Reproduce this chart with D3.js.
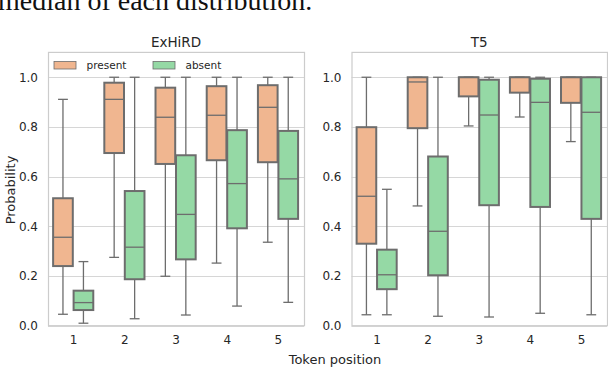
<!DOCTYPE html>
<html>
<head>
<meta charset="utf-8">
<script src="https://cdn.jsdelivr.net/npm/d3@7"></script>
<style>
  body { margin: 0; background: #fff; }
  svg text { font-family: "DejaVu Sans", sans-serif; fill: #262626; }
</style>
</head>
<body>
<div id="chart"></div>
<script>
//Datos
const posiciones = ['1', '2', '3', '4', '5'];
const series = ['present', 'absent'];
const yTicks = [0, 0.2, 0.4, 0.6, 0.8, 1.0];

//Cada caja: [bigote inferior, Q1, mediana, Q3, bigote superior]
const exhirdPresent = [
    [0.046, 0.240, 0.356, 0.513, 0.911],
    [0.275, 0.695, 0.911, 0.978, 1.0],
    [0.199, 0.651, 0.839, 0.958, 1.0],
    [0.252, 0.666, 0.847, 0.964, 1.0],
    [0.336, 0.658, 0.879, 0.968, 1.0]
];
const exhirdAbsent = [
    [0.010, 0.063, 0.093, 0.141, 0.258],
    [0.028, 0.187, 0.316, 0.542, 1.0],
    [0.043, 0.267, 0.448, 0.686, 1.0],
    [0.079, 0.392, 0.572, 0.787, 1.0],
    [0.094, 0.430, 0.591, 0.784, 1.0]
];
const t5Present = [
    [0.044, 0.330, 0.521, 0.799, 1.0],
    [0.482, 0.795, 0.981, 1.0, 1.0],
    [0.804, 0.923, 1.0, 1.0, 1.0],
    [0.840, 0.938, 1.0, 1.0, 1.0],
    [0.741, 0.897, 1.0, 1.0, 1.0]
];
const t5Absent = [
    [0.044, 0.147, 0.205, 0.306, 0.549],
    [0.038, 0.203, 0.380, 0.681, 1.0],
    [0.035, 0.485, 0.848, 0.990, 1.0],
    [0.050, 0.478, 0.899, 0.994, 1.0],
    [0.044, 0.430, 0.859, 1.0, 1.0]
];

//Colores fijos
const COLOR_PRESENT = '#f0b690',
COLOR_ABSENT = '#95d9a5',
COLOR_EDGE = '#6d6d6d';

const W = 608, H = 368;

let svg = d3.select('#chart')
    .append('svg')
        .attr('width', W)
        .attr('height', H);

//Texto del documento cortado arriba
svg.append('text')
    .attr('x', -2)
    .attr('y', 10)
    .style('font-family', '"Liberation Serif", "Times New Roman", serif')
    .style('font-size', '28px')
    .style('fill', '#111')
    .text('median of each distribution.');

let color = d3.scaleOrdinal()
    .domain(series)
    .range([COLOR_PRESENT, COLOR_ABSENT]);

let y = d3.scaleLinear()
    .domain([0, 1.1])
    .range([325.7, 52.4]);

function drawPanel(left, right, title, present, absent, withLegend) {
    let g = svg.append('g');

    let x = d3.scaleBand()
        .domain(posiciones)
        .range([left, right])
        .padding(0);

    let xSub = d3.scaleBand()
        .domain(series)
        .range([0, x.bandwidth() * 0.8]);

    //Rejilla
    g.append('g')
        .selectAll('line')
        .data(yTicks)
        .enter()
        .append('line')
        .attr('x1', left)
        .attr('x2', right)
        .attr('y1', d => Math.round(y(d)) + 0.5)
        .attr('y2', d => Math.round(y(d)) + 0.5)
        .attr('stroke', '#d6d6d6')
        .attr('stroke-width', 1);

    //Marco
    g.append('rect')
        .attr('x', left + 0.5)
        .attr('y', y.range()[1])
        .attr('width', right - left)
        .attr('height', y.range()[0] - y.range()[1])
        .attr('fill', 'none')
        .attr('stroke', '#cccccc')
        .attr('stroke-width', 1.2);

    //Eje Y
    let yAxis = d3.axisLeft(y).tickValues(yTicks).tickFormat(d3.format('.1f')).tickSize(0).tickPadding(10);
    g.append('g')
        .attr('transform', 'translate(' + left + ',0)')
        .call(yAxis)
        .call(a => a.select('.domain').remove())
        .selectAll('text')
        .style('font-size', '12px')
        .style('font-family', '"DejaVu Sans", sans-serif')
        .attr('fill', '#262626');

    //Eje X
    let xAxis = d3.axisBottom(x).tickSize(0).tickPadding(10);
    g.append('g')
        .attr('transform', 'translate(0,' + y(0) + ')')
        .call(xAxis)
        .call(a => a.select('.domain').remove())
        .selectAll('text')
        .style('font-size', '12px')
        .style('font-family', '"DejaVu Sans", sans-serif')
        .attr('fill', '#262626');

    //Titulo
    g.append('text')
        .attr('x', (left + right) / 2)
        .attr('y', 46.5)
        .attr('text-anchor', 'middle')
        .style('font-size', '13.5px')
        .text(title);

    //Cajas
    let rows = [];
    posiciones.forEach(function(p, i) {
        rows.push({pos: p, key: 'present', v: present[i]});
        rows.push({pos: p, key: 'absent', v: absent[i]});
    });

    let boxes = g.append('g')
        .selectAll('g')
        .data(rows)
        .enter()
        .append('g')
        .attr('transform', d => 'translate(' + (x(d.pos) + x.bandwidth() * 0.1 + xSub(d.key)) + ',0)');

    let bw = xSub.bandwidth() - 0.8;
    let cx = bw / 2;

    //Bigotes
    boxes.append('line')
        .attr('x1', cx).attr('x2', cx)
        .attr('y1', d => y(d.v[0])).attr('y2', d => y(d.v[1]))
        .attr('stroke', COLOR_EDGE).attr('stroke-width', 1.3);
    boxes.append('line')
        .attr('x1', cx).attr('x2', cx)
        .attr('y1', d => y(d.v[3])).attr('y2', d => y(d.v[4]))
        .attr('stroke', COLOR_EDGE).attr('stroke-width', 1.3);
    boxes.append('line')
        .attr('x1', cx - bw / 4).attr('x2', cx + bw / 4)
        .attr('y1', d => y(d.v[0])).attr('y2', d => y(d.v[0]))
        .attr('stroke', COLOR_EDGE).attr('stroke-width', 1.3);
    boxes.append('line')
        .attr('x1', cx - bw / 4).attr('x2', cx + bw / 4)
        .attr('y1', d => y(d.v[4])).attr('y2', d => y(d.v[4]))
        .attr('stroke', COLOR_EDGE).attr('stroke-width', 1.3);

    boxes.append('rect')
        .attr('x', 0)
        .attr('width', bw)
        .attr('y', d => y(d.v[3]))
        .attr('height', d => y(d.v[1]) - y(d.v[3]))
        .attr('fill', d => color(d.key))
        .attr('stroke', COLOR_EDGE)
        .attr('stroke-width', 2);

    boxes.append('line')
        .attr('x1', 0).attr('x2', bw)
        .attr('y1', d => y(d.v[2])).attr('y2', d => y(d.v[2]))
        .attr('stroke', COLOR_EDGE).attr('stroke-width', 1.3);

    //Leyenda
    if (withLegend) {
        let lg = g.append('g')
            .selectAll('g')
            .data(series)
            .enter()
            .append('g')
            .attr('transform', (d, i) => 'translate(' + (left + 6 + i * 99) + ',61.5)');
        lg.append('rect')
            .attr('width', 22).attr('height', 7.5)
            .attr('fill', d => color(d))
            .attr('stroke', COLOR_EDGE)
            .attr('stroke-width', 0.8);
        lg.append('text')
            .attr('x', 32.5)
            .attr('y', 7.5)
            .style('font-size', '10.5px')
            .text(d => d);
    }
}

drawPanel(48, 304, 'ExHiRD', exhirdPresent, exhirdAbsent, true);
drawPanel(351.5, 607, 'T5', t5Present, t5Absent, false);

//Etiquetas de ejes
svg.append('text')
    .attr('x', 335)
    .attr('y', 364)
    .attr('text-anchor', 'middle')
    .style('font-size', '13px')
    .text('Token position');

svg.append('text')
    .attr('transform', 'translate(15,190) rotate(-90)')
    .attr('text-anchor', 'middle')
    .style('font-size', '13px')
    .text('Probability');
</script>
</body>
</html>
